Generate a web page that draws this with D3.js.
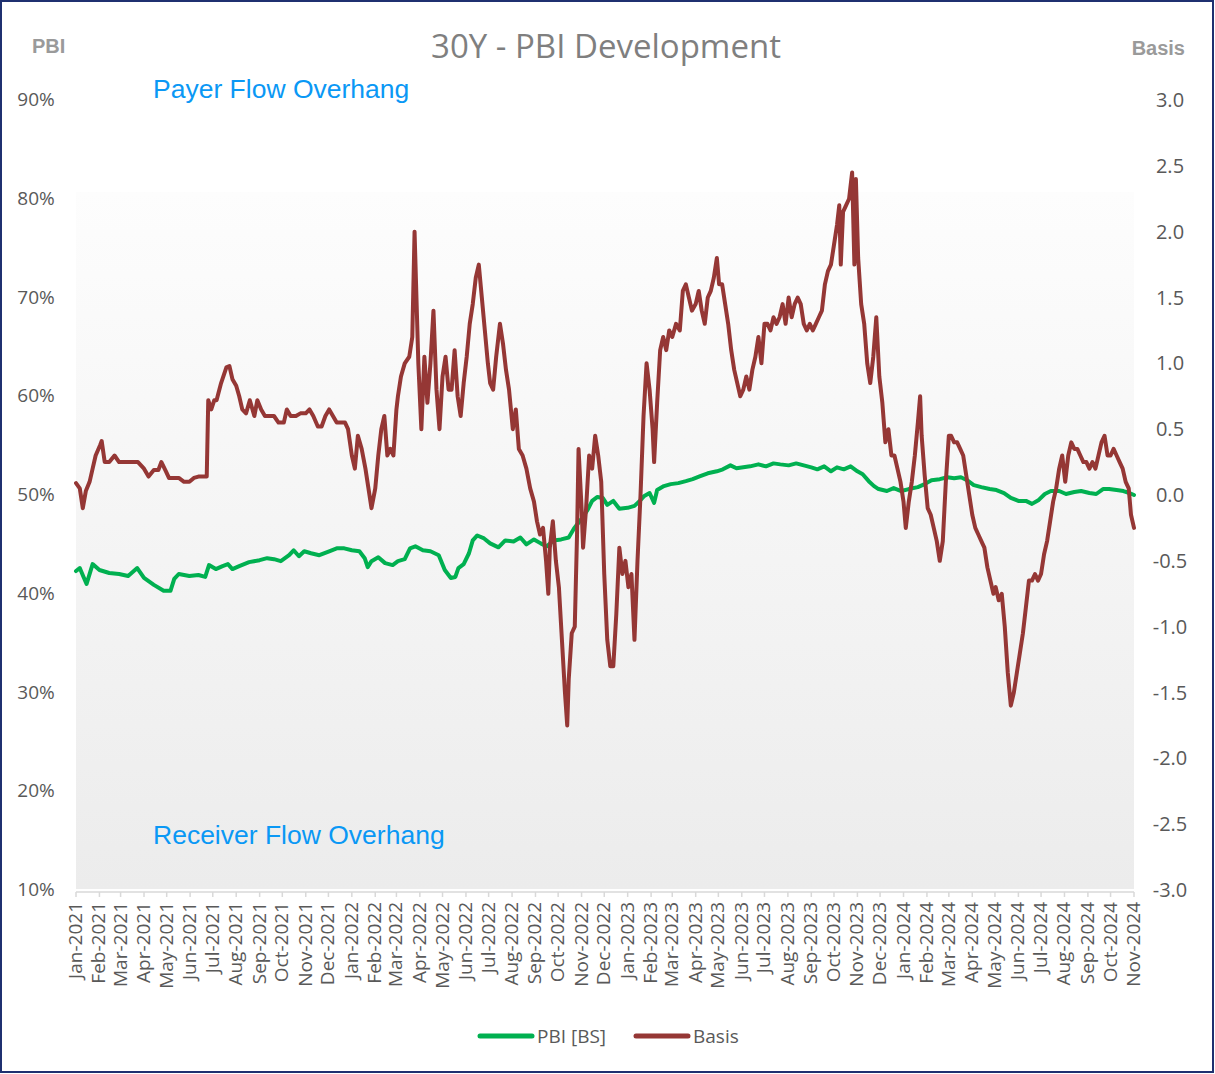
<!DOCTYPE html>
<html>
<head>
<meta charset="utf-8">
<script src="https://cdn.jsdelivr.net/npm/d3@7"></script>
<style>
  body { margin: 0; background: #fff; }
  svg { display: block; }
</style>
</head>
<body>
<div id="chart"></div>
<script>
// Basis (right axis)
var basisData = [
  ["2021-01-01",0.09],["2021-01-06",0.05],["2021-01-10",-0.1],["2021-01-14",0.03],["2021-01-19",0.1],["2021-01-23",0.2],["2021-01-27",0.3],
  ["2021-02-02",0.38],["2021-02-04",0.41],["2021-02-08",0.25],["2021-02-14",0.25],["2021-02-21",0.3],["2021-02-27",0.25],
  ["2021-03-05",0.25],["2021-03-11",0.25],["2021-03-18",0.25],["2021-03-24",0.25],
  ["2021-04-01",0.2],["2021-04-07",0.14],["2021-04-14",0.19],["2021-04-20",0.19],["2021-04-24",0.25],["2021-04-30",0.18],
  ["2021-05-04",0.13],["2021-05-10",0.13],["2021-05-17",0.13],["2021-05-24",0.1],["2021-05-31",0.1],
  ["2021-06-06",0.13],["2021-06-12",0.14],["2021-06-19",0.14],["2021-06-23",0.14],["2021-06-25",0.72],["2021-06-29",0.65],
  ["2021-07-03",0.72],["2021-07-06",0.72],["2021-07-12",0.85],["2021-07-19",0.97],["2021-07-23",0.98],["2021-07-27",0.88],
  ["2021-08-01",0.83],["2021-08-05",0.75],["2021-08-09",0.65],["2021-08-14",0.62],["2021-08-19",0.72],["2021-08-25",0.6],["2021-08-29",0.72],
  ["2021-09-03",0.65],["2021-09-08",0.6],["2021-09-13",0.6],["2021-09-20",0.6],["2021-09-26",0.55],
  ["2021-10-03",0.55],["2021-10-07",0.65],["2021-10-12",0.6],["2021-10-19",0.6],["2021-10-25",0.62],
  ["2021-11-01",0.62],["2021-11-06",0.65],["2021-11-11",0.6],["2021-11-17",0.52],["2021-11-22",0.52],["2021-11-27",0.6],
  ["2021-12-02",0.65],["2021-12-07",0.6],["2021-12-12",0.55],["2021-12-17",0.55],["2021-12-23",0.55],["2021-12-27",0.5],
  ["2022-01-01",0.3],["2022-01-05",0.2],["2022-01-09",0.45],["2022-01-14",0.35],["2022-01-19",0.2],["2022-01-23",0.05],["2022-01-27",-0.1],
  ["2022-02-01",0.05],["2022-02-05",0.3],["2022-02-09",0.5],["2022-02-13",0.6],["2022-02-17",0.3],["2022-02-21",0.35],["2022-02-25",0.3],
  ["2022-03-01",0.65],["2022-03-03",0.75],["2022-03-07",0.9],["2022-03-12",1.0],["2022-03-18",1.05],["2022-03-22",1.2],["2022-03-25",2.0],["2022-03-27",1.6],["2022-03-30",1.0],
  ["2022-04-03",0.5],["2022-04-07",1.05],["2022-04-11",0.7],["2022-04-15",1.0],["2022-04-19",1.4],["2022-04-23",0.8],["2022-04-27",0.5],
  ["2022-05-01",0.9],["2022-05-05",1.05],["2022-05-09",0.8],["2022-05-13",0.8],["2022-05-17",1.1],["2022-05-21",0.75],["2022-05-25",0.6],["2022-05-29",0.85],
  ["2022-06-02",1.05],["2022-06-06",1.3],["2022-06-10",1.45],["2022-06-14",1.65],["2022-06-18",1.75],["2022-06-22",1.5],["2022-06-26",1.25],["2022-06-30",1.0],
  ["2022-07-03",0.85],["2022-07-07",0.8],["2022-07-11",1.05],["2022-07-16",1.3],["2022-07-20",1.15],["2022-07-24",0.95],["2022-07-28",0.8],
  ["2022-08-02",0.5],["2022-08-06",0.65],["2022-08-10",0.35],["2022-08-15",0.3],["2022-08-20",0.2],["2022-08-25",0.05],["2022-08-30",-0.05],
  ["2022-09-03",-0.2],["2022-09-07",-0.3],["2022-09-11",-0.25],["2022-09-15",-0.5],["2022-09-18",-0.75],["2022-09-20",-0.4],["2022-09-24",-0.2],["2022-09-28",-0.5],
  ["2022-10-02",-0.7],["2022-10-06",-1.1],["2022-10-10",-1.5],["2022-10-13",-1.75],["2022-10-15",-1.4],["2022-10-19",-1.05],["2022-10-23",-1.0],["2022-10-26",-0.3],["2022-10-28",0.35],
  ["2022-11-01",-0.1],["2022-11-03",-0.4],["2022-11-07",-0.1],["2022-11-11",0.3],["2022-11-15",0.2],["2022-11-19",0.45],["2022-11-23",0.3],["2022-11-27",0.1],
  ["2022-12-01",-0.6],["2022-12-05",-1.1],["2022-12-09",-1.3],["2022-12-13",-1.3],["2022-12-17",-0.9],["2022-12-21",-0.4],["2022-12-25",-0.6],["2022-12-29",-0.5],
  ["2023-01-02",-0.7],["2023-01-06",-0.6],["2023-01-10",-1.1],["2023-01-14",-0.5],["2023-01-18",0.0],["2023-01-22",0.6],["2023-01-26",1.0],["2023-01-30",0.8],
  ["2023-02-03",0.5],["2023-02-05",0.25],["2023-02-09",0.7],["2023-02-13",1.1],["2023-02-17",1.2],["2023-02-21",1.1],["2023-02-25",1.25],
  ["2023-03-01",1.2],["2023-03-06",1.3],["2023-03-11",1.25],["2023-03-15",1.55],["2023-03-19",1.6],["2023-03-23",1.5],["2023-03-27",1.4],
  ["2023-04-01",1.45],["2023-04-05",1.55],["2023-04-09",1.4],["2023-04-13",1.3],["2023-04-17",1.5],["2023-04-21",1.55],["2023-04-25",1.65],["2023-04-29",1.8],
  ["2023-05-02",1.6],["2023-05-06",1.6],["2023-05-10",1.45],["2023-05-14",1.3],["2023-05-18",1.1],["2023-05-22",0.95],["2023-05-26",0.85],["2023-05-30",0.75],
  ["2023-06-03",0.8],["2023-06-07",0.9],["2023-06-11",0.8],["2023-06-15",0.95],["2023-06-19",1.05],["2023-06-23",1.2],["2023-06-27",1.0],
  ["2023-07-01",1.3],["2023-07-05",1.3],["2023-07-09",1.25],["2023-07-13",1.35],["2023-07-17",1.3],["2023-07-21",1.35],["2023-07-25",1.45],["2023-07-29",1.3],
  ["2023-08-02",1.5],["2023-08-06",1.35],["2023-08-10",1.45],["2023-08-14",1.5],["2023-08-18",1.45],["2023-08-22",1.3],["2023-08-26",1.25],["2023-08-30",1.3],
  ["2023-09-03",1.25],["2023-09-07",1.3],["2023-09-11",1.35],["2023-09-15",1.4],["2023-09-19",1.6],["2023-09-23",1.7],["2023-09-27",1.75],
  ["2023-10-01",1.9],["2023-10-05",2.05],["2023-10-08",2.2],["2023-10-10",1.75],["2023-10-13",2.15],["2023-10-17",2.2],["2023-10-21",2.25],["2023-10-25",2.45],["2023-10-28",1.75],["2023-10-30",2.4],
  ["2023-11-02",1.8],["2023-11-06",1.45],["2023-11-10",1.3],["2023-11-14",1.0],["2023-11-18",0.85],["2023-11-22",1.05],["2023-11-26",1.35],["2023-11-30",0.9],
  ["2023-12-04",0.7],["2023-12-08",0.4],["2023-12-12",0.5],["2023-12-16",0.3],["2023-12-20",0.3],["2023-12-24",0.2],["2023-12-28",0.1],
  ["2024-01-01",-0.05],["2024-01-04",-0.25],["2024-01-08",-0.05],["2024-01-12",0.1],["2024-01-16",0.3],["2024-01-20",0.55],["2024-01-23",0.75],["2024-01-25",0.45],["2024-01-29",0.15],
  ["2024-02-02",-0.1],["2024-02-06",-0.15],["2024-02-10",-0.25],["2024-02-14",-0.35],["2024-02-18",-0.5],["2024-02-22",-0.35],["2024-02-26",0.1],
  ["2024-03-01",0.45],["2024-03-04",0.45],["2024-03-08",0.4],["2024-03-12",0.4],["2024-03-16",0.35],["2024-03-20",0.3],["2024-03-24",0.15],["2024-03-28",0.0],
  ["2024-04-01",-0.15],["2024-04-05",-0.25],["2024-04-09",-0.3],["2024-04-13",-0.35],["2024-04-17",-0.4],["2024-04-21",-0.55],["2024-04-25",-0.65],["2024-04-29",-0.75],
  ["2024-05-02",-0.7],["2024-05-06",-0.8],["2024-05-10",-0.75],["2024-05-14",-1.0],["2024-05-18",-1.35],["2024-05-22",-1.6],["2024-05-26",-1.5],["2024-05-30",-1.35],
  ["2024-06-03",-1.2],["2024-06-07",-1.05],["2024-06-11",-0.85],["2024-06-15",-0.65],["2024-06-19",-0.65],["2024-06-23",-0.6],["2024-06-27",-0.65],
  ["2024-07-01",-0.6],["2024-07-05",-0.45],["2024-07-09",-0.35],["2024-07-13",-0.2],["2024-07-17",-0.05],["2024-07-21",0.05],["2024-07-25",0.2],["2024-07-29",0.3],
  ["2024-08-02",0.1],["2024-08-06",0.3],["2024-08-10",0.4],["2024-08-14",0.35],["2024-08-18",0.35],["2024-08-22",0.3],["2024-08-26",0.25],["2024-08-30",0.25],
  ["2024-09-03",0.2],["2024-09-07",0.25],["2024-09-11",0.2],["2024-09-15",0.3],["2024-09-19",0.4],["2024-09-23",0.45],["2024-09-27",0.3],
  ["2024-10-01",0.3],["2024-10-05",0.35],["2024-10-09",0.3],["2024-10-13",0.25],["2024-10-17",0.2],["2024-10-21",0.1],["2024-10-25",0.05],["2024-10-28",-0.15],
  ["2024-11-01",-0.25]
];

// PBI [BS] in percent (left axis)
var pbiData = [
  ["2021-01-01",42.2],["2021-01-06",42.5],["2021-01-11",41.6],["2021-01-15",40.9],["2021-01-23",42.9],["2021-02-01",42.3],["2021-02-14",42.0],["2021-02-27",41.9],
  ["2021-03-11",41.7],["2021-03-23",42.5],["2021-04-01",41.5],["2021-04-14",40.8],["2021-04-27",40.2],["2021-05-06",40.2],["2021-05-11",41.4],["2021-05-17",41.9],
  ["2021-05-31",41.7],["2021-06-12",41.8],["2021-06-21",41.6],["2021-06-26",42.8],["2021-07-05",42.4],["2021-07-14",42.7],["2021-07-21",42.9],["2021-07-27",42.4],
  ["2021-08-05",42.7],["2021-08-18",43.1],["2021-09-01",43.3],["2021-09-11",43.5],["2021-09-20",43.4],["2021-09-29",43.2],["2021-10-10",43.8],["2021-10-16",44.3],
  ["2021-10-23",43.7],["2021-10-30",44.2],["2021-11-08",44.0],["2021-11-19",43.8],["2021-12-02",44.2],["2021-12-12",44.5],["2021-12-22",44.5],
  ["2022-01-01",44.3],["2022-01-11",44.2],["2022-01-18",43.5],["2022-01-22",42.6],["2022-01-27",43.2],["2022-02-05",43.6],["2022-02-14",43.0],["2022-02-24",42.8],
  ["2022-03-03",43.2],["2022-03-12",43.4],["2022-03-19",44.5],["2022-03-26",44.7],["2022-04-05",44.3],["2022-04-15",44.2],["2022-04-26",43.8],["2022-05-04",42.3],
  ["2022-05-12",41.5],["2022-05-18",41.6],["2022-05-22",42.5],["2022-05-29",42.9],["2022-06-05",44.0],["2022-06-10",45.3],["2022-06-16",45.8],["2022-06-25",45.5],
  ["2022-07-03",45.0],["2022-07-14",44.6],["2022-07-23",45.3],["2022-08-03",45.2],["2022-08-12",45.6],["2022-08-20",44.9],["2022-08-30",45.4],["2022-09-08",45.0],
  ["2022-09-16",44.7],["2022-09-25",45.3],["2022-10-05",45.4],["2022-10-15",45.6],["2022-10-22",46.5],["2022-11-01",47.5],["2022-11-09",48.4],["2022-11-15",49.3],
  ["2022-11-22",49.7],["2022-11-29",49.6],["2022-12-05",48.9],["2022-12-13",49.3],["2022-12-21",48.5],
  ["2023-01-01",48.6],["2023-01-10",48.8],["2023-01-17",49.3],["2023-01-23",49.8],["2023-01-30",50.1],["2023-02-05",49.1],["2023-02-09",50.4],["2023-02-18",50.8],
  ["2023-02-27",51.0],["2023-03-09",51.1],["2023-03-19",51.3],["2023-03-28",51.5],["2023-04-07",51.8],["2023-04-17",52.1],["2023-04-29",52.3],["2023-05-07",52.5],
  ["2023-05-17",52.9],["2023-05-25",52.6],["2023-06-03",52.7],["2023-06-12",52.8],["2023-06-23",53.0],["2023-07-03",52.8],["2023-07-13",53.1],["2023-07-22",53.0],
  ["2023-08-02",52.9],["2023-08-12",53.1],["2023-08-22",52.9],["2023-09-01",52.7],["2023-09-09",52.5],["2023-09-18",52.8],["2023-09-27",52.3],["2023-10-05",52.7],
  ["2023-10-14",52.5],["2023-10-23",52.8],["2023-11-01",52.3],["2023-11-08",52.0],["2023-11-16",51.3],["2023-11-23",50.8],["2023-11-29",50.5],["2023-12-10",50.3],
  ["2023-12-19",50.6],["2023-12-29",50.3],
  ["2024-01-08",50.5],["2024-01-20",50.7],["2024-01-29",51.0],["2024-02-07",51.4],["2024-02-18",51.5],["2024-02-28",51.7],["2024-03-08",51.6],["2024-03-17",51.7],
  ["2024-03-25",51.4],["2024-04-03",50.9],["2024-04-13",50.7],["2024-04-24",50.5],["2024-05-03",50.4],["2024-05-13",50.1],["2024-05-22",49.6],["2024-06-01",49.3],
  ["2024-06-11",49.3],["2024-06-19",49.0],["2024-06-28",49.4],["2024-07-06",50.0],["2024-07-14",50.3],["2024-07-25",50.3],["2024-08-03",50.0],["2024-08-14",50.2],
  ["2024-08-23",50.3],["2024-09-03",50.1],["2024-09-12",50.0],["2024-09-21",50.5],["2024-09-29",50.5],["2024-10-09",50.4],["2024-10-18",50.3],["2024-10-26",50.1],
  ["2024-11-01",49.9]
];

var pbiTicks = [10, 20, 30, 40, 50, 60, 70, 80, 90];
var basisTicks = [-3.0, -2.5, -2.0, -1.5, -1.0, -0.5, 0.0, 0.5, 1.0, 1.5, 2.0, 2.5, 3.0];
var seriesNames = ["PBI [BS]", "Basis"];
var seriesColors = ["#00b050", "#953735"];

function buildChart(){
    var width = 1215, height = 1074;
    var plotLeft = 76, plotRight = 1134, plotTop = 99, plotBottom = 889;
    var bgTop = 192;

    var parse = d3.timeParse("%Y-%m-%d");
    var startDate = parse("2021-01-01"), endDate = parse("2024-11-01");

    var x = d3.scaleTime().domain([startDate, endDate]).range([plotLeft, plotRight]);
    var yL = d3.scaleLinear().domain([10, 90]).range([plotBottom, plotTop]);
    var yR = d3.scaleLinear().domain([-3, 3]).range([plotBottom + 1, plotTop + 1]);

    var svg = d3.select("#chart").append("svg")
        .attr("width", width)
        .attr("height", height);

    var defs = svg.append("defs");
    var grad = defs.append("linearGradient").attr("id", "bg").attr("x1", 0).attr("y1", 0).attr("x2", 0).attr("y2", 1);
    grad.append("stop").attr("offset", "0%").attr("stop-color", "#fdfdfd");
    grad.append("stop").attr("offset", "100%").attr("stop-color", "#ececec");

    var shadow = defs.append("filter").attr("id", "shadow").attr("x", "-5%").attr("y", "-300%").attr("width", "110%").attr("height", "700%");
    shadow.append("feGaussianBlur").attr("in", "SourceAlpha").attr("stdDeviation", 1.5).attr("result", "b");
    shadow.append("feOffset").attr("in", "b").attr("dy", 2).attr("result", "o");
    shadow.append("feComponentTransfer").attr("in", "o").attr("result", "s")
        .append("feFuncA").attr("type", "linear").attr("slope", 0.35);
    var merge = shadow.append("feMerge");
    merge.append("feMergeNode").attr("in", "s");
    merge.append("feMergeNode").attr("in", "SourceGraphic");

    // frame
    svg.append("rect").attr("x", 1).attr("y", 1).attr("width", width - 3).attr("height", height - 3)
        .attr("fill", "#fff").attr("stroke", "#1f3070").attr("stroke-width", 2);

    // plot background
    svg.append("rect").attr("x", plotLeft).attr("y", bgTop).attr("width", plotRight - plotLeft).attr("height", plotBottom - bgTop)
        .attr("fill", "url(#bg)");

    // x axis line and ticks
    var months = d3.timeMonth.range(startDate, d3.timeDay.offset(endDate, 1));
    svg.append("line").attr("x1", plotLeft).attr("x2", plotRight).attr("y1", plotBottom + 3).attr("y2", plotBottom + 3)
        .attr("stroke", "#d9d9d9").attr("stroke-width", 1.5);
    svg.selectAll(".xtick").data(months).enter().append("line")
        .attr("class", "xtick")
        .attr("x1", function(d){ return x(d); }).attr("x2", function(d){ return x(d); })
        .attr("y1", plotBottom + 3).attr("y2", plotBottom + 8)
        .attr("stroke", "#d9d9d9").attr("stroke-width", 1.5);

    var fmt = d3.timeFormat("%b-%Y");
    svg.selectAll(".xlab").data(months).enter().append("text")
        .attr("class", "xlab")
        .attr("transform", function(d){ return "translate(" + (x(d) + 6) + "," + (plotBottom + 13) + ") rotate(-90)"; })
        .attr("text-anchor", "end")
        .attr("font-family", "Open Sans, sans-serif")
        .attr("font-size", 19)
        .attr("fill", "#595959")
        .text(function(d){ return fmt(d); });

    // left axis labels
    svg.selectAll(".ylab").data(pbiTicks).enter().append("text")
        .attr("class", "ylab")
        .attr("x", 36).attr("y", function(d){ return yL(d) + 7; })
        .attr("text-anchor", "middle")
        .attr("font-family", "Open Sans, sans-serif")
        .attr("font-size", 19)
        .attr("fill", "#595959")
        .text(function(d){ return d + "%"; });

    // right axis labels
    svg.selectAll(".rlab").data(basisTicks).enter().append("text")
        .attr("class", "rlab")
        .attr("x", 1170).attr("y", function(d){ return yR(d) + 7; })
        .attr("text-anchor", "middle")
        .attr("font-family", "Open Sans, sans-serif")
        .attr("font-size", 20)
        .attr("fill", "#595959")
        .text(function(d){ return d.toFixed(1); });

    // 50% reference line
    svg.append("line").attr("x1", plotLeft).attr("x2", plotRight).attr("y1", yL(50)).attr("y2", yL(50))
        .attr("stroke", "#bdbdbd").attr("stroke-width", 2).attr("filter", "url(#shadow)");

    // lines
    var pbiLine = d3.line()
        .x(function(d){ return x(parse(d[0])); })
        .y(function(d){ return yL(d[1]); });
    var basisLine = d3.line()
        .x(function(d){ return x(parse(d[0])); })
        .y(function(d){ return yR(d[1]); });

    svg.append("path").datum(pbiData)
        .attr("d", pbiLine)
        .attr("fill", "none").attr("stroke", seriesColors[0]).attr("stroke-width", 4)
        .attr("stroke-linejoin", "round").attr("stroke-linecap", "round");

    svg.append("path").datum(basisData)
        .attr("d", basisLine)
        .attr("fill", "none").attr("stroke", seriesColors[1]).attr("stroke-width", 4)
        .attr("stroke-linejoin", "round").attr("stroke-linecap", "round");

    // titles and annotations
    svg.append("text").attr("x", 606).attr("y", 58).attr("text-anchor", "middle")
        .attr("font-family", "Open Sans, sans-serif").attr("font-size", 33).attr("fill", "#7f7f7f")
        .text("30Y - PBI Development");

    svg.append("text").attr("x", 32).attr("y", 53)
        .attr("font-family", "Liberation Sans, Arial, sans-serif").attr("font-weight", "bold")
        .attr("font-size", 20).attr("fill", "#9a9a9a").text("PBI");

    svg.append("text").attr("x", 1185).attr("y", 55).attr("text-anchor", "end")
        .attr("font-family", "Liberation Sans, Arial, sans-serif").attr("font-weight", "bold")
        .attr("font-size", 20).attr("fill", "#9a9a9a").text("Basis");

    svg.append("text").attr("x", 153).attr("y", 98)
        .attr("font-family", "Liberation Sans, Arial, sans-serif")
        .attr("font-size", 26.5).attr("fill", "#0a98f5").text("Payer Flow Overhang");

    svg.append("text").attr("x", 153).attr("y", 844)
        .attr("font-family", "Liberation Sans, Arial, sans-serif")
        .attr("font-size", 26.5).attr("fill", "#0a98f5").text("Receiver Flow Overhang");

    // legend
    var legend = svg.append("g");
    var legendX = [480, 636];
    seriesNames.forEach(function(name, i){
        legend.append("line").attr("x1", legendX[i]).attr("x2", legendX[i] + 52)
            .attr("y1", 1036).attr("y2", 1036)
            .attr("stroke", seriesColors[i]).attr("stroke-width", 5).attr("stroke-linecap", "round");
        legend.append("text").attr("x", legendX[i] + 57).attr("y", 1043)
            .attr("font-family", "Open Sans, sans-serif").attr("font-size", 19).attr("fill", "#595959")
            .text(name);
    });
}

buildChart();
</script>
</body>
</html>
